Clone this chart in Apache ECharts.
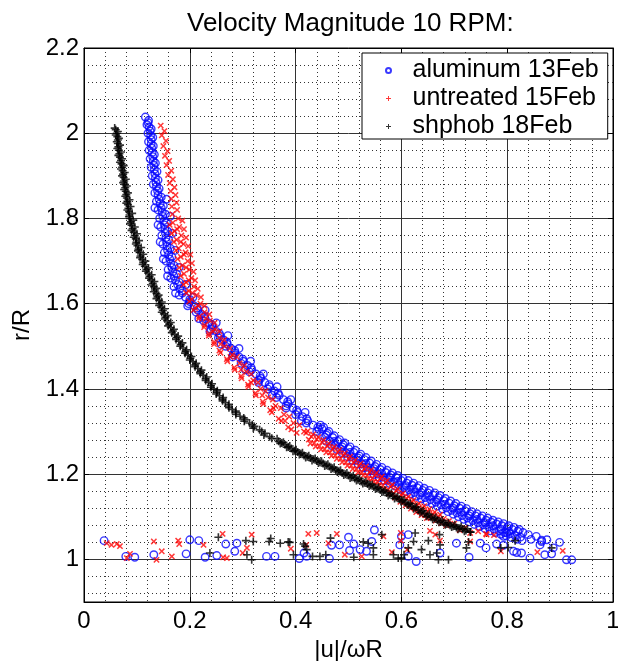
<!DOCTYPE html>
<html>
<head>
<meta charset="utf-8">
<script src="https://cdn.jsdelivr.net/npm/echarts@6/dist/echarts.min.js"></script>
<style>html,body{margin:0;padding:0;background:#fff}#c{width:618px;height:661px}</style>
</head>
<body>
<div id="c"></div>
<script>
const FONT = 'Liberation Sans, Arial, Helvetica, sans-serif';
const titleText = 'Velocity Magnitude 10 RPM:';
const xName = '|u|/\u03c9R';
const yName = 'r/R';
const seriesNames = ['aluminum 13Feb', 'untreated 15Feb', 'shphob 18Feb'];

// [u/ωR, r/R] pairs
const aluminumUpper = [[0.116,2.038],[0.122,2.030],[0.119,2.020],[0.127,2.010],[0.121,2.000],[0.130,1.990],[0.122,1.980],[0.131,1.970],[0.123,1.960],[0.133,1.950],[0.125,1.940],[0.135,1.930],[0.127,1.920],[0.138,1.910],[0.129,1.900],[0.140,1.890],[0.131,1.880],[0.142,1.870],[0.134,1.860],[0.146,1.850],[0.137,1.840],[0.150,1.830],[0.140,1.820],[0.154,1.810],[0.143,1.800],[0.156,1.790],[0.145,1.780],[0.158,1.770],[0.147,1.760],[0.160,1.750],[0.149,1.740],[0.163,1.730],[0.152,1.720],[0.166,1.710],[0.155,1.700],[0.170,1.690],[0.159,1.680],[0.175,1.670],[0.164,1.660],[0.180,1.650],[0.170,1.640],[0.186,1.630],[0.180,1.620],[0.200,1.610],[0.198,1.600],[0.214,1.590],[0.212,1.580],[0.228,1.570],[0.226,1.560],[0.242,1.550],[0.240,1.540],[0.256,1.530],[0.254,1.520],[0.270,1.510],[0.268,1.500],[0.285,1.490],[0.282,1.480],[0.300,1.470],[0.297,1.460],[0.316,1.450],[0.313,1.440],[0.333,1.430],[0.330,1.420],[0.350,1.410],[0.347,1.400],[0.367,1.390],[0.364,1.380],[0.385,1.370],[0.382,1.360],[0.402,1.350],[0.400,1.340],[0.421,1.330],[0.420,1.320],[0.442,1.310],[0.440,1.300]];
const aluminumUpperMid = [[0.121,2.025],[0.123,2.015],[0.125,2.005],[0.126,1.995],[0.127,1.985],[0.127,1.975],[0.128,1.965],[0.129,1.955],[0.130,1.945],[0.131,1.935],[0.132,1.925],[0.133,1.915],[0.134,1.905],[0.135,1.895],[0.136,1.885],[0.137,1.875],[0.139,1.865],[0.140,1.855],[0.142,1.845],[0.144,1.835],[0.146,1.825],[0.148,1.815],[0.149,1.805],[0.151,1.795],[0.152,1.785],[0.153,1.775],[0.154,1.765],[0.155,1.755],[0.156,1.745],[0.157,1.735],[0.158,1.725],[0.160,1.715],[0.162,1.705],[0.164,1.695],[0.166,1.685],[0.168,1.675],[0.170,1.665],[0.173,1.655],[0.177,1.645],[0.181,1.635],[0.186,1.625],[0.192,1.615],[0.200,1.605],[0.208,1.595],[0.215,1.585],[0.222,1.575],[0.229,1.565],[0.236,1.555],[0.243,1.545],[0.250,1.535],[0.257,1.525],[0.264,1.515],[0.271,1.505],[0.278,1.495],[0.285,1.485],[0.293,1.475],[0.301,1.465],[0.309,1.455],[0.317,1.445],[0.325,1.435],[0.334,1.425],[0.342,1.415],[0.351,1.405],[0.360,1.395],[0.369,1.385],[0.377,1.375],[0.386,1.365],[0.395,1.355],[0.404,1.345],[0.413,1.335],[0.423,1.325],[0.433,1.315],[0.444,1.305]];
const aluminumBandR = [[0.156,1.845],[0.163,1.805],[0.167,1.765],[0.172,1.725],[0.180,1.685],[0.193,1.645],[0.206,1.615],[0.229,1.585],[0.250,1.555],[0.272,1.525],[0.293,1.495],[0.315,1.465],[0.339,1.435],[0.365,1.405],[0.391,1.375],[0.418,1.345],[0.447,1.315]];
const aluminumBandL = [[0.134,1.825],[0.140,1.785],[0.144,1.745],[0.150,1.705],[0.158,1.665],[0.173,1.625],[0.196,1.595],[0.217,1.565],[0.238,1.535],[0.259,1.505],[0.281,1.475],[0.305,1.445],[0.330,1.415],[0.356,1.385],[0.382,1.355],[0.411,1.325]];
const aluminumLower = [[0.450,1.306],[0.455,1.287],[0.460,1.296],[0.465,1.277],[0.470,1.286],[0.475,1.268],[0.480,1.277],[0.485,1.259],[0.490,1.269],[0.495,1.250],[0.500,1.260],[0.505,1.241],[0.510,1.251],[0.515,1.233],[0.520,1.243],[0.525,1.224],[0.530,1.234],[0.535,1.216],[0.540,1.226],[0.545,1.208],[0.550,1.218],[0.555,1.200],[0.560,1.211],[0.565,1.193],[0.570,1.204],[0.575,1.187],[0.580,1.198],[0.585,1.181],[0.590,1.192],[0.595,1.174],[0.600,1.185],[0.605,1.168],[0.610,1.179],[0.615,1.163],[0.620,1.174],[0.625,1.157],[0.630,1.168],[0.635,1.151],[0.640,1.162],[0.645,1.145],[0.650,1.156],[0.655,1.140],[0.660,1.151],[0.665,1.134],[0.670,1.145],[0.675,1.128],[0.680,1.138],[0.685,1.121],[0.690,1.132],[0.695,1.115],[0.700,1.126],[0.705,1.109],[0.710,1.120],[0.715,1.103],[0.720,1.114],[0.725,1.097],[0.730,1.107],[0.735,1.091],[0.740,1.102],[0.745,1.086],[0.750,1.097],[0.755,1.081],[0.760,1.092],[0.765,1.076],[0.770,1.087],[0.775,1.071],[0.780,1.083],[0.785,1.067],[0.790,1.079],[0.795,1.063],[0.800,1.075],[0.805,1.060],[0.810,1.070],[0.815,1.056],[0.820,1.066],[0.825,1.052],[0.830,1.063],[0.840,1.058],[0.845,1.047],[0.855,1.054],[0.865,1.045],[0.875,1.046]];
const aluminumLowerMid = [[0.458,1.292],[0.473,1.277],[0.488,1.264],[0.503,1.251],[0.518,1.238],[0.533,1.225],[0.548,1.213],[0.563,1.202],[0.578,1.192],[0.593,1.183],[0.608,1.173],[0.623,1.165],[0.638,1.156],[0.653,1.148],[0.668,1.139],[0.683,1.129],[0.698,1.120],[0.713,1.111],[0.728,1.102],[0.743,1.094],[0.758,1.086],[0.773,1.079],[0.788,1.071],[0.803,1.066]];
const aluminumLowerTop = [[0.453,1.310],[0.463,1.300],[0.473,1.290],[0.483,1.281],[0.493,1.273],[0.503,1.264],[0.513,1.256],[0.523,1.247],[0.533,1.239],[0.543,1.231],[0.553,1.223],[0.563,1.216],[0.573,1.209],[0.583,1.203],[0.593,1.197],[0.603,1.190],[0.613,1.185],[0.623,1.179],[0.633,1.173],[0.643,1.167],[0.653,1.162],[0.663,1.156],[0.673,1.150],[0.683,1.143],[0.693,1.137],[0.703,1.131],[0.713,1.125],[0.723,1.119],[0.733,1.112],[0.743,1.107],[0.753,1.102],[0.763,1.097],[0.773,1.092],[0.783,1.088],[0.793,1.084],[0.803,1.079],[0.813,1.075],[0.823,1.070]];
const aluminumLowerBottom = [[0.458,1.277],[0.468,1.267],[0.478,1.258],[0.488,1.250],[0.498,1.241],[0.508,1.232],[0.518,1.224],[0.528,1.215],[0.538,1.207],[0.548,1.199],[0.558,1.192],[0.568,1.185],[0.578,1.178],[0.588,1.172],[0.598,1.165],[0.608,1.159],[0.618,1.154],[0.628,1.148],[0.638,1.142],[0.648,1.136],[0.658,1.131],[0.668,1.125],[0.678,1.118],[0.688,1.112],[0.698,1.106],[0.708,1.100],[0.718,1.094],[0.728,1.088],[0.738,1.082],[0.748,1.077],[0.758,1.072],[0.768,1.067],[0.778,1.063],[0.788,1.059],[0.798,1.055],[0.808,1.051],[0.818,1.047],[0.828,1.044]];
const aluminumScatter = [[0.038,1.044],[0.079,1.007],[0.096,1.005],[0.132,1.011],[0.193,1.013],[0.200,1.046],[0.217,1.044],[0.229,1.005],[0.251,1.009],[0.268,1.036],[0.289,1.038],[0.285,1.019],[0.345,1.007],[0.361,1.007],[0.407,1.002],[0.421,1.007],[0.416,1.015],[0.464,1.002],[0.468,1.033],[0.483,1.034],[0.500,1.052],[0.510,1.036],[0.522,1.023],[0.502,1.021],[0.534,1.019],[0.549,1.069],[0.544,1.042],[0.600,1.054],[0.613,1.058],[0.597,1.034],[0.613,1.007],[0.628,0.995],[0.673,1.015],[0.704,1.038],[0.728,1.005],[0.749,1.038],[0.760,1.027],[0.780,1.036],[0.793,1.033],[0.812,1.019],[0.818,1.016],[0.827,1.015],[0.843,1.003],[0.871,1.011],[0.884,1.013],[0.887,1.027],[0.899,1.040],[0.912,0.999],[0.922,0.999],[0.862,1.034],[0.865,1.042],[0.793,1.054],[0.799,1.062]];

const untreatedUpper = [[0.145,2.018],[0.152,2.005],[0.147,1.995],[0.155,1.982],[0.150,1.970],[0.158,1.958],[0.153,1.947],[0.161,1.935],[0.156,1.925],[0.165,1.912],[0.159,1.902],[0.168,1.892],[0.162,1.883],[0.171,1.873],[0.164,1.864],[0.173,1.855],[0.165,1.846],[0.175,1.837],[0.166,1.828],[0.176,1.820],[0.167,1.810],[0.178,1.800],[0.168,1.790],[0.180,1.780],[0.171,1.770],[0.184,1.760],[0.175,1.750],[0.188,1.740],[0.179,1.730],[0.192,1.720],[0.183,1.710],[0.196,1.700],[0.186,1.690],[0.199,1.680],[0.189,1.670],[0.203,1.660],[0.193,1.650],[0.208,1.640],[0.198,1.630],[0.213,1.620],[0.204,1.610],[0.220,1.600],[0.210,1.590],[0.228,1.580],[0.218,1.570],[0.238,1.560],[0.228,1.550],[0.247,1.540],[0.236,1.530],[0.256,1.520],[0.246,1.510],[0.266,1.500],[0.256,1.490],[0.280,1.480],[0.270,1.470],[0.294,1.460],[0.284,1.450],[0.307,1.440],[0.297,1.430],[0.320,1.420],[0.310,1.410],[0.334,1.400],[0.324,1.390],[0.348,1.380],[0.338,1.370],[0.362,1.360],[0.352,1.350],[0.378,1.340],[0.368,1.330],[0.396,1.320],[0.386,1.310],[0.416,1.300],[0.402,1.297]];
const untreatedMid = [[0.176,1.775],[0.183,1.745],[0.189,1.715],[0.193,1.685],[0.198,1.655],[0.205,1.625],[0.216,1.595],[0.230,1.565],[0.244,1.535],[0.258,1.505],[0.277,1.475],[0.297,1.445],[0.316,1.415],[0.337,1.385],[0.358,1.355],[0.380,1.325]];
const untreatedBandR = [[0.186,1.795],[0.189,1.775],[0.193,1.755],[0.197,1.735],[0.201,1.715],[0.204,1.695],[0.207,1.675],[0.210,1.655],[0.215,1.635],[0.221,1.615],[0.228,1.595],[0.237,1.575],[0.247,1.555],[0.256,1.535],[0.265,1.515],[0.276,1.495],[0.289,1.475],[0.303,1.455],[0.316,1.435],[0.329,1.415],[0.343,1.395],[0.357,1.375],[0.372,1.355],[0.388,1.335],[0.407,1.315]];
const untreatedBandL = [[0.162,1.785],[0.166,1.765],[0.170,1.745],[0.174,1.725],[0.177,1.705],[0.180,1.685],[0.183,1.665],[0.188,1.645],[0.193,1.625],[0.199,1.605],[0.207,1.585],[0.217,1.565],[0.227,1.545],[0.236,1.525],[0.246,1.505],[0.258,1.485],[0.271,1.465],[0.285,1.445],[0.298,1.425],[0.311,1.405],[0.325,1.385],[0.339,1.365],[0.355,1.345],[0.373,1.325],[0.392,1.305]];
const untreatedLower = [[0.420,1.297],[0.425,1.281],[0.430,1.288],[0.435,1.273],[0.440,1.282],[0.445,1.266],[0.450,1.275],[0.455,1.259],[0.460,1.267],[0.465,1.251],[0.470,1.259],[0.475,1.244],[0.480,1.252],[0.485,1.236],[0.490,1.244],[0.495,1.228],[0.500,1.236],[0.505,1.220],[0.510,1.228],[0.515,1.212],[0.520,1.220],[0.525,1.205],[0.530,1.213],[0.535,1.197],[0.540,1.205],[0.545,1.190],[0.550,1.198],[0.555,1.182],[0.560,1.190],[0.565,1.174],[0.570,1.181],[0.575,1.164],[0.580,1.171],[0.585,1.154],[0.590,1.161],[0.595,1.144],[0.600,1.151],[0.605,1.135],[0.610,1.143],[0.615,1.127],[0.620,1.135],[0.625,1.119],[0.630,1.127],[0.635,1.112],[0.640,1.120],[0.645,1.104],[0.650,1.113],[0.655,1.097],[0.660,1.106],[0.665,1.091],[0.670,1.100],[0.675,1.085],[0.680,1.095],[0.685,1.080],[0.690,1.090],[0.700,1.084],[0.710,1.069],[0.720,1.074],[0.730,1.062],[0.745,1.066],[0.760,1.060],[0.775,1.057]];
const untreatedLowerTop = [[0.423,1.301],[0.433,1.293],[0.443,1.287],[0.453,1.280],[0.463,1.272],[0.473,1.264],[0.483,1.257],[0.493,1.249],[0.503,1.241],[0.513,1.233],[0.523,1.225],[0.533,1.218],[0.543,1.210],[0.553,1.203],[0.563,1.194],[0.573,1.185],[0.583,1.175],[0.593,1.165],[0.603,1.155],[0.613,1.147],[0.623,1.139],[0.633,1.131],[0.643,1.125],[0.653,1.118],[0.663,1.111],[0.673,1.105]];
const untreatedLowerBottom = [[0.428,1.272],[0.438,1.265],[0.448,1.258],[0.458,1.251],[0.468,1.243],[0.478,1.236],[0.488,1.228],[0.498,1.220],[0.508,1.212],[0.518,1.204],[0.528,1.197],[0.538,1.189],[0.548,1.182],[0.558,1.174],[0.568,1.165],[0.578,1.155],[0.588,1.145],[0.598,1.135],[0.608,1.127],[0.618,1.119],[0.628,1.111],[0.638,1.104],[0.648,1.097]];
const untreatedScatter = [[0.043,1.038],[0.052,1.034],[0.062,1.036],[0.068,1.031],[0.087,1.013],[0.081,1.003],[0.132,1.042],[0.147,1.019],[0.137,0.999],[0.178,1.044],[0.180,1.036],[0.226,1.034],[0.262,1.060],[0.263,1.005],[0.270,1.003],[0.166,1.007],[0.317,1.058],[0.308,1.027],[0.300,1.015],[0.424,1.060],[0.440,1.062],[0.420,1.034],[0.391,1.025],[0.462,1.038],[0.478,1.060],[0.493,1.011],[0.525,1.007],[0.566,1.054],[0.599,1.062],[0.582,1.017],[0.599,1.044],[0.611,1.023],[0.654,1.067],[0.664,1.058],[0.673,1.044],[0.730,1.042],[0.761,1.058],[0.788,1.019],[0.857,1.017],[0.905,1.020]];

const shphobUpper = [[0.058,2.012],[0.064,2.004],[0.060,1.996],[0.066,1.988],[0.062,1.980],[0.068,1.972],[0.063,1.964],[0.070,1.956],[0.065,1.948],[0.072,1.940],[0.068,1.932],[0.075,1.924],[0.070,1.916],[0.077,1.908],[0.072,1.900],[0.079,1.892],[0.074,1.884],[0.081,1.876],[0.076,1.868],[0.083,1.860],[0.078,1.852],[0.086,1.844],[0.080,1.836],[0.088,1.828],[0.082,1.820],[0.091,1.812],[0.085,1.804],[0.093,1.796],[0.087,1.788],[0.096,1.780],[0.090,1.772],[0.100,1.764],[0.094,1.756],[0.104,1.748],[0.098,1.740],[0.108,1.732],[0.102,1.724],[0.112,1.716],[0.106,1.708],[0.116,1.700],[0.111,1.692],[0.122,1.684],[0.117,1.676],[0.128,1.668],[0.123,1.660],[0.133,1.652],[0.128,1.644],[0.137,1.636],[0.132,1.628],[0.141,1.620],[0.137,1.612],[0.147,1.604],[0.142,1.596],[0.152,1.588],[0.147,1.580],[0.158,1.572],[0.153,1.564],[0.164,1.556],[0.159,1.548],[0.170,1.540],[0.166,1.532],[0.178,1.524],[0.174,1.516],[0.186,1.508],[0.182,1.500],[0.194,1.492],[0.191,1.484],[0.203,1.476],[0.200,1.468],[0.212,1.460],[0.210,1.452],[0.222,1.444],[0.220,1.436],[0.232,1.428],[0.230,1.420],[0.242,1.412],[0.240,1.404],[0.252,1.396],[0.250,1.388],[0.263,1.380],[0.262,1.372],[0.274,1.364],[0.274,1.356],[0.287,1.348],[0.287,1.340],[0.302,1.332],[0.303,1.324],[0.318,1.316],[0.320,1.308],[0.336,1.300],[0.340,1.292],[0.355,1.284]];
const shphobUpperMid = [[0.060,2.008],[0.062,2.000],[0.063,1.992],[0.064,1.984],[0.064,1.976],[0.065,1.968],[0.066,1.960],[0.067,1.952],[0.068,1.944],[0.070,1.936],[0.071,1.928],[0.072,1.920],[0.073,1.912],[0.074,1.904],[0.075,1.896],[0.076,1.888],[0.077,1.880],[0.078,1.872],[0.079,1.864],[0.080,1.856],[0.081,1.848],[0.082,1.840],[0.083,1.832],[0.084,1.824],[0.085,1.816],[0.086,1.808],[0.087,1.800],[0.089,1.792],[0.090,1.784],[0.092,1.776],[0.094,1.768],[0.096,1.760],[0.098,1.752],[0.099,1.744],[0.101,1.736],[0.103,1.728],[0.105,1.720],[0.107,1.712],[0.110,1.704],[0.112,1.696],[0.115,1.688],[0.118,1.680],[0.121,1.672],[0.124,1.664],[0.127,1.656],[0.130,1.648],[0.132,1.640],[0.134,1.632],[0.137,1.624],[0.139,1.616],[0.142,1.608],[0.144,1.600],[0.146,1.592],[0.149,1.584],[0.151,1.576],[0.154,1.568],[0.157,1.560],[0.161,1.552],[0.164,1.544],[0.168,1.536],[0.171,1.528],[0.175,1.520],[0.179,1.512],[0.183,1.504],[0.187,1.496],[0.192,1.488],[0.196,1.480],[0.201,1.472],[0.206,1.464],[0.210,1.456],[0.215,1.448],[0.220,1.440],[0.225,1.432],[0.230,1.424],[0.235,1.416],[0.240,1.408],[0.245,1.400],[0.251,1.392],[0.256,1.384],[0.262,1.376],[0.267,1.368],[0.273,1.360],[0.280,1.352],[0.287,1.344],[0.295,1.336],[0.304,1.328],[0.313,1.320],[0.322,1.312],[0.332,1.304],[0.342,1.296],[0.351,1.288]];
const shphobLower = [[0.365,1.283],[0.371,1.272],[0.377,1.275],[0.383,1.263],[0.389,1.266],[0.395,1.254],[0.401,1.257],[0.407,1.246],[0.413,1.250],[0.419,1.239],[0.425,1.243],[0.431,1.232],[0.437,1.237],[0.443,1.226],[0.449,1.230],[0.455,1.219],[0.461,1.223],[0.467,1.212],[0.473,1.216],[0.479,1.205],[0.485,1.209],[0.491,1.198],[0.497,1.203],[0.503,1.191],[0.509,1.196],[0.515,1.185],[0.521,1.190],[0.527,1.178],[0.533,1.183],[0.539,1.172],[0.545,1.176],[0.551,1.165],[0.557,1.169],[0.563,1.158],[0.569,1.162],[0.575,1.150],[0.581,1.155],[0.587,1.143],[0.593,1.147],[0.599,1.136],[0.605,1.140],[0.611,1.128],[0.617,1.131],[0.623,1.119],[0.629,1.123],[0.635,1.110],[0.641,1.114],[0.647,1.101],[0.653,1.106],[0.659,1.094],[0.665,1.098],[0.671,1.087],[0.677,1.092],[0.683,1.081],[0.689,1.086],[0.695,1.076],[0.701,1.081],[0.707,1.071],[0.713,1.077],[0.719,1.066],[0.725,1.072],[0.731,1.064]];
const shphobLowerMid = [[0.368,1.277],[0.374,1.273],[0.380,1.269],[0.386,1.264],[0.392,1.260],[0.398,1.255],[0.404,1.252],[0.410,1.248],[0.416,1.244],[0.422,1.241],[0.428,1.238],[0.434,1.235],[0.440,1.231],[0.446,1.228],[0.452,1.225],[0.458,1.221],[0.464,1.218],[0.470,1.214],[0.476,1.210],[0.482,1.207],[0.488,1.203],[0.494,1.200],[0.500,1.197],[0.506,1.193],[0.512,1.190],[0.518,1.187],[0.524,1.183],[0.530,1.180],[0.536,1.177],[0.542,1.174],[0.548,1.170],[0.554,1.167],[0.560,1.163],[0.566,1.159],[0.572,1.156],[0.578,1.152],[0.584,1.148],[0.590,1.145],[0.596,1.141],[0.602,1.138],[0.608,1.133],[0.614,1.129],[0.620,1.125],[0.626,1.121],[0.632,1.116],[0.638,1.112],[0.644,1.107],[0.650,1.103],[0.656,1.099],[0.662,1.096],[0.668,1.092],[0.674,1.089],[0.680,1.086],[0.686,1.083],[0.692,1.080],[0.698,1.078],[0.704,1.075],[0.710,1.073],[0.716,1.071],[0.722,1.068]];
const shphobScatter = [[0.238,1.015],[0.254,1.052],[0.306,1.044],[0.320,1.042],[0.317,0.999],[0.308,1.011],[0.350,1.042],[0.353,1.049],[0.371,1.038],[0.386,1.041],[0.389,1.040],[0.396,1.011],[0.415,1.036],[0.418,1.031],[0.421,1.023],[0.432,1.007],[0.446,1.007],[0.457,1.011],[0.466,1.050],[0.510,1.005],[0.528,1.041],[0.537,1.038],[0.547,1.027],[0.547,1.011],[0.563,1.058],[0.585,1.011],[0.594,1.003],[0.600,1.003],[0.605,1.011],[0.613,1.027],[0.626,1.062],[0.623,1.042],[0.638,1.023],[0.651,1.044],[0.654,1.011],[0.667,1.015],[0.670,0.999],[0.673,1.034],[0.689,0.999],[0.672,1.058],[0.723,1.027],[0.730,1.064],[0.727,1.041],[0.788,1.027],[0.802,1.028],[0.815,1.044],[0.884,1.027]];

const xTicks = {min: 0, max: 1, interval: 0.2};
const yTicks = {min: 0.9, max: 2.2, splitNumber: 6};

const aluminum = [].concat(aluminumUpper, aluminumUpperMid, aluminumBandL, aluminumBandR, aluminumLower, aluminumLowerMid, aluminumLowerTop, aluminumLowerBottom, aluminumScatter);
const untreated = [].concat(untreatedUpper, untreatedMid, untreatedBandR, untreatedBandL, untreatedLower, untreatedLowerTop, untreatedLowerBottom, untreatedScatter);
const shphob = [].concat(shphobUpper, shphobUpperMid, shphobLower, shphobLowerMid, shphobScatter);

const PLUS = 'path://M4,0H6V4H10V6H6V10H4V6H0V4H4Z';

const chart = echarts.init(document.getElementById('c'), null, {renderer: 'canvas'});
const axisLabelStyle = {color: '#000', fontSize: 24, fontFamily: FONT};
const majorLine = {show: true, lineStyle: {color: '#333', width: 1, type: 'solid'}};
const minorLine = {show: true, lineStyle: {color: '#333', width: 1, type: [1, 3]}};

chart.setOption({
  animation: false,
  backgroundColor: '#fff',
  textStyle: {fontFamily: FONT},
  title: {
    text: titleText, left: 182, top: 6,
    textStyle: {fontSize: 26, fontWeight: 'normal', color: '#000', fontFamily: FONT}
  },
  grid: {left: 84, right: 5, top: 48, bottom: 59, containLabel: false, outerBoundsMode: 'none', show: true, borderColor: '#000', borderWidth: 1, backgroundColor: '#fff'},
  legend: {
    orient: 'vertical', left: 362, top: 53,
    data: [
      {name: seriesNames[0], icon: 'circle'},
      {name: seriesNames[1], icon: PLUS},
      {name: seriesNames[2], icon: PLUS}
    ],
    itemWidth: 38, itemHeight: 5, itemGap: 3,
    padding: [5, 9, 0, 23],
    backgroundColor: '#fff', borderColor: '#000', borderWidth: 1, borderRadius: 0,
    textStyle: {fontSize: 25, color: '#000', fontFamily: FONT},
    selectedMode: false
  },
  xAxis: [{
    type: 'value', min: xTicks.min, max: xTicks.max, interval: xTicks.interval,
    name: xName, nameLocation: 'middle', nameGap: 31,
    nameTextStyle: {fontSize: 24, color: '#000', fontFamily: FONT},
    axisLine: {show: true, onZero: false, lineStyle: {color: '#000'}},
    axisTick: {show: true, inside: true, length: 5, lineStyle: {color: '#000'}},
    axisLabel: Object.assign({margin: 7}, axisLabelStyle),
    splitLine: majorLine,
    minorTick: {show: false, splitNumber: 5},
    minorSplitLine: minorLine
  }, {
    type: 'value', position: 'top', min: xTicks.min, max: xTicks.max, interval: xTicks.interval,
    axisLine: {show: true, onZero: false, lineStyle: {color: '#000'}},
    axisTick: {show: true, inside: true, length: 5, lineStyle: {color: '#000'}},
    axisLabel: {show: false}, splitLine: {show: false}
  }],
  yAxis: [{
    type: 'value', min: yTicks.min, max: yTicks.max, splitNumber: yTicks.splitNumber,
    name: yName, nameLocation: 'middle', nameGap: 46,
    nameTextStyle: {fontSize: 24, color: '#000', fontFamily: FONT},
    axisLine: {show: true, onZero: false, lineStyle: {color: '#000'}},
    axisTick: {show: true, inside: true, length: 5, lineStyle: {color: '#000'}},
    axisLabel: Object.assign({margin: 5, showMinLabel: false}, axisLabelStyle),
    splitLine: majorLine,
    minorTick: {show: false, splitNumber: 5},
    minorSplitLine: minorLine
  }, {
    type: 'value', position: 'right', min: yTicks.min, max: yTicks.max, splitNumber: yTicks.splitNumber,
    axisLine: {show: true, onZero: false, lineStyle: {color: '#000'}},
    axisTick: {show: true, inside: true, length: 5, lineStyle: {color: '#000'}},
    axisLabel: {show: false}, splitLine: {show: false}
  }],
  series: [
    {
      name: seriesNames[0], type: 'scatter', data: aluminum,
      symbol: 'circle', symbolSize: 7.5,
      itemStyle: {color: 'rgba(0,0,0,0)', borderColor: '#0808ff', borderWidth: 1.4},
      emphasis: {disabled: true}
    },
    {
      name: seriesNames[1], type: 'scatter', data: untreated,
      symbol: PLUS, symbolSize: 7.5, symbolRotate: 45,
      itemStyle: {color: '#ff0808'},
      emphasis: {disabled: true}
    },
    {
      name: seriesNames[2], type: 'scatter', data: shphob,
      symbol: PLUS, symbolSize: 8,
      itemStyle: {color: '#000'},
      emphasis: {disabled: true}
    }
  ]
});
</script>
</body>
</html>
